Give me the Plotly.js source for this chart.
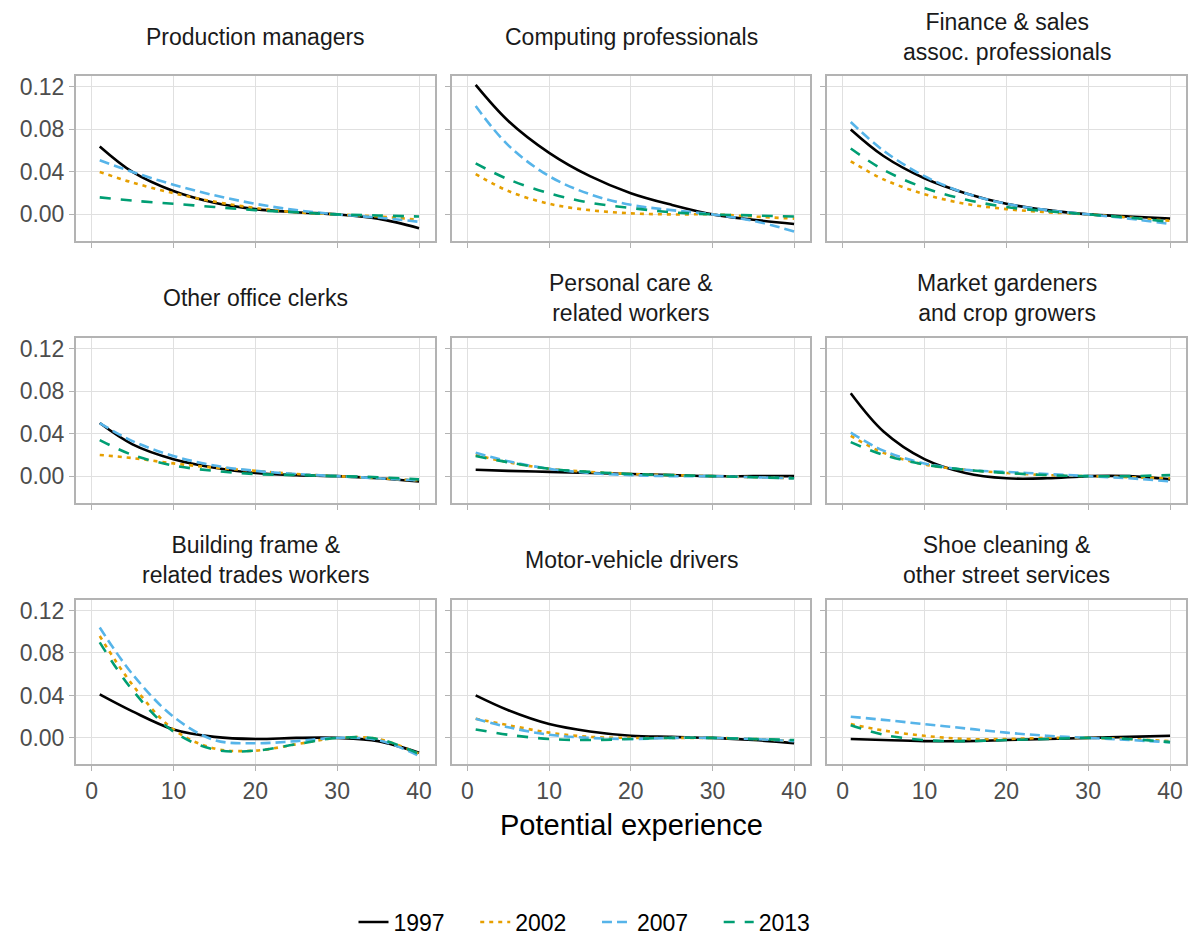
<!DOCTYPE html>
<html>
<head>
<meta charset="utf-8">
<script src="https://cdn.plot.ly/plotly-3.0.1.min.js"></script>
<style>body{margin:0;background:#fff}#chart{width:1194px;height:944px}</style>
</head>
<body>
<div id="chart"></div>
<script>
const experience = [1, 5, 10, 15, 20, 25, 30, 35, 40];
const years = ["1997", "2002", "2007", "2013"];
const occupations = [
  "Production managers", "Computing professionals", "Finance & sales<br>assoc. professionals",
  "Other office clerks", "Personal care &<br>related workers", "Market gardeners<br>and crop growers",
  "Building frame &<br>related trades workers", "Motor-vehicle drivers", "Shoe cleaning &<br>other street services"
];

// one array per occupation, rows = years
const productionManagers = [
  [0.064, 0.040, 0.022, 0.011, 0.005, 0.002, 0.000, -0.004, -0.013],
  [0.040, 0.030, 0.020, 0.012, 0.006, 0.002, 0.000, -0.002, -0.005],
  [0.051, 0.040, 0.028, 0.018, 0.010, 0.004, 0.000, -0.003, -0.007],
  [0.016, 0.013, 0.010, 0.007, 0.004, 0.002, 0.000, -0.001, -0.002]];
const computing = [
  [0.122, 0.088, 0.058, 0.036, 0.020, 0.009, 0.000, -0.005, -0.009],
  [0.038, 0.022, 0.010, 0.004, 0.001, 0.000, 0.000, -0.002, -0.004],
  [0.102, 0.065, 0.036, 0.019, 0.009, 0.004, 0.000, -0.006, -0.016],
  [0.048, 0.033, 0.020, 0.011, 0.006, 0.002, 0.000, -0.001, -0.002]];
const finance = [
  [0.080, 0.055, 0.034, 0.020, 0.010, 0.004, 0.000, -0.002, -0.004],
  [0.050, 0.033, 0.019, 0.010, 0.005, 0.002, 0.000, -0.003, -0.006],
  [0.087, 0.060, 0.036, 0.020, 0.010, 0.004, 0.000, -0.004, -0.009],
  [0.062, 0.042, 0.025, 0.014, 0.007, 0.003, 0.000, -0.003, -0.007]];
const officeClerks = [
  [0.050, 0.030, 0.016, 0.008, 0.003, 0.001, 0.000, -0.002, -0.005],
  [0.020, 0.017, 0.012, 0.008, 0.005, 0.002, 0.000, -0.002, -0.004],
  [0.050, 0.033, 0.019, 0.010, 0.005, 0.002, 0.000, -0.002, -0.004],
  [0.034, 0.020, 0.010, 0.005, 0.002, 0.001, 0.000, -0.001, -0.003]];
const personalCare = [
  [0.006, 0.005, 0.004, 0.003, 0.002, 0.001, 0.000, 0.000, 0.000],
  [0.020, 0.013, 0.007, 0.004, 0.002, 0.001, 0.000, -0.001, -0.002],
  [0.022, 0.014, 0.007, 0.003, 0.001, 0.000, 0.000, -0.001, -0.002],
  [0.019, 0.013, 0.007, 0.004, 0.002, 0.001, 0.000, -0.001, -0.002]];
const gardeners = [
  [0.078, 0.042, 0.016, 0.003, -0.002, -0.002, 0.000, 0.000, -0.003],
  [0.038, 0.022, 0.011, 0.006, 0.003, 0.001, 0.000, -0.001, -0.002],
  [0.041, 0.024, 0.012, 0.006, 0.004, 0.002, 0.000, -0.002, -0.005],
  [0.032, 0.020, 0.011, 0.006, 0.003, 0.001, 0.000, 0.000, 0.001]];
const buildingFrame = [
  [0.041, 0.025, 0.008, 0.001, -0.001, 0.000, 0.000, -0.003, -0.014],
  [0.096, 0.050, 0.008, -0.010, -0.012, -0.006, 0.000, -0.001, -0.015],
  [0.104, 0.060, 0.020, -0.002, -0.005, -0.003, 0.000, -0.002, -0.017],
  [0.090, 0.045, 0.006, -0.011, -0.012, -0.006, 0.000, -0.001, -0.015]];
const drivers = [
  [0.040, 0.026, 0.013, 0.006, 0.002, 0.001, 0.000, -0.002, -0.005],
  [0.018, 0.012, 0.005, 0.001, 0.000, 0.000, 0.000, -0.001, -0.003],
  [0.018, 0.010, 0.003, 0.000, -0.001, 0.000, 0.000, -0.001, -0.003],
  [0.008, 0.003, -0.001, -0.002, -0.001, 0.000, 0.000, -0.001, -0.002]];
const shoeCleaning = [
  [-0.001, -0.002, -0.003, -0.003, -0.002, -0.001, 0.000, 0.001, 0.002],
  [0.013, 0.007, 0.002, -0.001, -0.001, 0.000, 0.000, -0.001, -0.003],
  [0.020, 0.017, 0.013, 0.009, 0.005, 0.002, 0.000, -0.002, -0.004],
  [0.012, 0.003, -0.002, -0.003, -0.002, -0.001, 0.000, -0.001, -0.004]];

const panels = [productionManagers, computing, finance, officeClerks, personalCare,
  gardeners, buildingFrame, drivers, shoeCleaning];

const colors = ["#000000", "#E69F00", "#56B4E9", "#009E73"];
const dashes = ["solid", "4px,5px", "10px,5px", "11px,10px"];

const W = 1194, H = 944;
const colPx = [[76, 435], [452, 810], [827, 1186]];
const rowPx = [[77, 243], [341, 507], [605, 771]];

const traces = [];
const layout = {
  width: W, height: H, margin: { l: 0, r: 0, t: 0, b: 0 },
  paper_bgcolor: "#fff", plot_bgcolor: "#fff",
  font: { family: "Liberation Sans, Arial, sans-serif", color: "#000" },
  showlegend: true,
  legend: { orientation: "h", x: 0.5, xanchor: "center", y: 1 - 930 / H, yanchor: "middle",
    font: { size: 23 }, tracegroupgap: 0 },
  annotations: [],
};

panels.forEach((panel, i) => {
  const r = Math.floor(i / 3), c = i % 3;
  const n = i === 0 ? "" : String(i + 1);
  const xa = "xaxis" + n, ya = "yaxis" + n;
  layout[xa] = {
    domain: [colPx[c][0] / W, colPx[c][1] / W], anchor: "y" + n,
    range: [-1.9, 41.95], tickvals: [0, 10, 20, 30, 40],
    showticklabels: r === 2, ticks: "outside", ticklen: 5, tickcolor: "#b3b3b3",
    gridcolor: "#e0e0e0", gridwidth: 1, zeroline: false,
    showline: true, mirror: true, linecolor: "#b3b3b3", linewidth: 2,
    tickfont: { size: 23, color: "#4d4d4d" },
  };
  layout[ya] = {
    domain: [1 - rowPx[r][1] / H, 1 - rowPx[r][0] / H], anchor: "x" + n,
    range: [-0.025, 0.13], tickvals: [0, 0.04, 0.08, 0.12],
    ticktext: ["0.00", "0.04", "0.08", "0.12"],
    showticklabels: c === 0, ticks: "outside", ticklen: 5, tickcolor: "#b3b3b3",
    gridcolor: "#e0e0e0", gridwidth: 1, zeroline: false,
    showline: true, mirror: true, linecolor: "#b3b3b3", linewidth: 2,
    tickfont: { size: 23, color: "#4d4d4d" },
  };
  layout.annotations.push({
    text: occupations[i], xref: "paper", yref: "paper",
    x: (colPx[c][0] + colPx[c][1]) / 2 / W, y: 1 - (rowPx[r][0] - 40) / H,
    xanchor: "center", yanchor: "middle", showarrow: false,
    font: { size: 23, color: "#1a1a1a" },
  });
  panel.forEach((vals, k) => {
    traces.push({
      x: experience, y: vals, type: "scatter", mode: "lines",
      xaxis: "x" + n, yaxis: "y" + n, name: years[k] + "    ", legendgroup: years[k],
      showlegend: i === 0,
      line: { color: colors[k], width: 2.6, dash: dashes[k], shape: "spline", smoothing: 1 },
    });
  });
});

layout.annotations.push({
  text: "Potential experience", xref: "paper", yref: "paper",
  x: (76 + 1186) / 2 / W, y: 1 - 832 / H, xanchor: "center", yanchor: "middle",
  showarrow: false, font: { size: 29, color: "#000" },
});

Plotly.newPlot("chart", traces, layout, { staticPlot: true });
</script>
</body>
</html>
